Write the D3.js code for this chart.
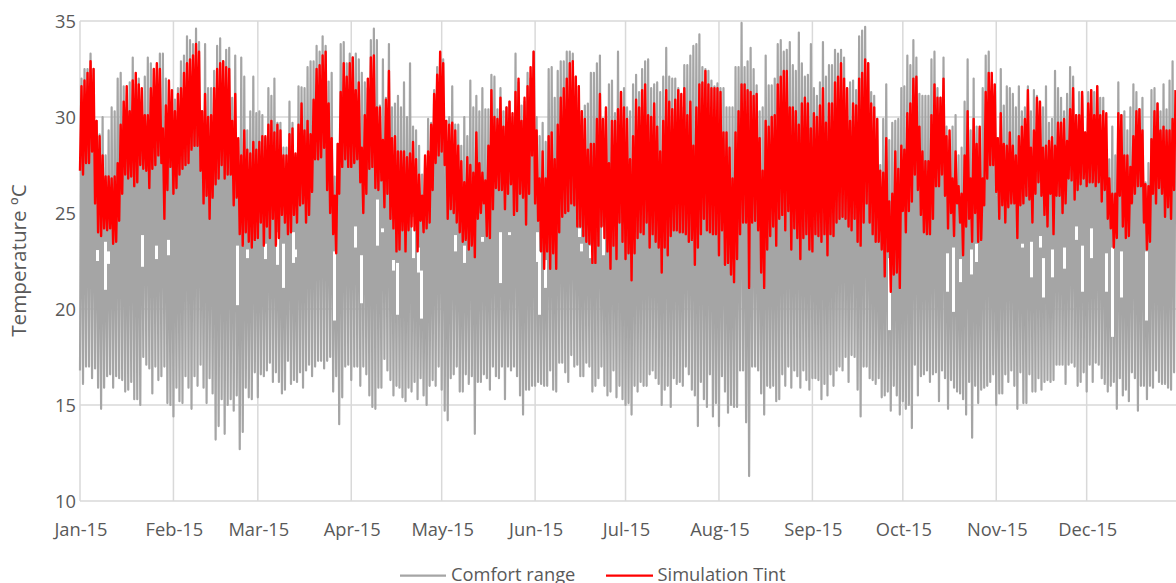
<!DOCTYPE html>
<html><head><meta charset="utf-8">
<script src="https://cdn.jsdelivr.net/npm/d3@7"></script>
<style>html,body{margin:0;padding:0;background:#fff;overflow:hidden}svg{display:block}text{font-family:"Open Sans",sans-serif}</style>
</head><body><svg id="c" width="1176" height="583"></svg>
<script>
const yTicks=[10,15,20,25,30,35];
const seriesNames=["Comfort range","Simulation Tint"];
const yTitle="Temperature ºC";
const comfortHigh=[
32,32.5,32.5,33.3,32.5,29.8,29.1,30,28,29.3,30.5,30.3,32,32.3,31.6,30.5,31.8,33.1,31.7,32,30.9,32.1,33.1,32.8,32.5,31.7,33.3,33.3,32,29.7,30.7,
30.9,31.5,32.9,33.2,34.2,34,33.8,34.6,33.9,30.3,33.8,31.5,31.5,32.4,33.7,34.1,32.9,33.5,33.6,31,33.2,28.8,33.1,32.1,29.3,30.3,32.1,30.2,
30.3,30.1,28.9,31.5,31.1,32,29.7,29.7,28.4,28.4,30.8,29.7,28,31.6,31.55,31.5,32.6,32.9,32.9,33.7,33.4,34.2,33.7,31.85,32.3,26.9,28.6,33.8,33.9,32.8,33.3,
33.1,33.3,33,32.3,31.8,31.5,34,34.6,34,30.6,33,31,33.8,30.5,30.7,31.1,30.5,31.8,30,32.8,29.5,29.3,28.5,27,27.5,29.9,29.7,31.4,32.6,
33,33,29.8,30,31.6,29.6,29.6,28.5,30,29,31.9,30.5,31.1,30.3,31.5,30.4,30.4,32.2,32.1,30.4,31.5,30.3,30.5,30.8,30,33.3,31.8,30.6,30.8,32.3,32,33.4,
30,29,29.7,28.7,32.5,32.6,31,32.4,32.9,32.9,33.4,33.4,33.3,32.1,31.6,30.3,30.6,30.7,32.3,32.3,32.8,33.2,29.9,30.3,31.7,31.9,30.2,33.4,31.3,
31.5,30.5,30.3,31.7,32.2,31.3,32.5,32.9,33,31.5,31.7,31.8,31.3,32.1,33.6,32.1,32,32,31.5,30.5,32.7,32.7,33.2,33.7,33.8,34.3,32.6,32.5,32.4,31.9,31.6,
31.75,31.5,31.5,30.5,30.5,30.5,32.6,32.6,34.9,32.6,32.9,33.6,32.5,31.65,30.3,30.5,33.2,31.65,31.65,32,
33.8,34,33.4,33.5,33.9,32.7,32.4,34.4,32.8,32.1,32.2,33.8,31.5,31.1,31.8,33.9,32.1,32.7,32.7,33.5,
33.3,33.5,33.1,31.5,31.8,31.9,31.4,34.2,34.5,34.7,32.8,31.3,31.1,29.9,27.5,29.9,31.7,28.8,29.7,29.8,
29.9,31.5,31.6,33.2,32.7,34,33.1,31.2,31.1,31.1,31.1,33,33.4,31.5,31,33.1,29.5,28.8,29.5,30.1,
28,28.4,30.8,33,29.3,32,29.5,29.4,31.5,33.2,33.4,30.3,31.2,28.9,32.5,30.6,31.6,31.5,31.2,30.5,
31.6,30.3,30.5,31.6,30.3,31.4,31.1,30.8,30.5,31.6,29.7,29.9,32.4,31.5,31,30.3,31.2,32.6,32.1,30.1,
31.3,31.1,29.2,31.3,31.4,31.3,31.6,31,31,28,27.8,29.5,28,31.8,30.1,30.3,29.3,30.5,31.7,31.3,
30.4,31,26.6,27.6,31.4,31.5,30.7,30.3,31.7,30.4,31.9,32.9,31.4];
const comfortLow=[
16.8,16.1,17,17,16.4,16.9,15.9,14.8,15.9,16.5,16.6,15.9,16.5,16.4,16.3,15.7,15.8,16.2,15.3,15.3,15,17.5,17.1,16.9,15.6,17,16.3,16.5,17,15.1,15,
14.4,15.9,15.2,15.1,16.5,15.9,14.8,16.5,16,17.1,15.9,15.1,16.4,15.6,13.2,13.9,15.3,13.5,15,15.3,14.7,15.5,12.7,13.6,15.9,15.4,15.3,16.7,
15.4,16.6,16.5,16.8,17.2,16.2,16.7,16.2,15.6,15.8,17.3,16.1,16.3,16.2,16.7,15.9,16.8,17.1,16.5,17,17.3,17.3,16.9,17.3,17.5,15.7,16.5,14,15.4,17,17.1,
16.3,17,17,16,17,16.6,15.5,14.9,14.8,15.9,15.9,17.4,16.8,16.3,15.5,16,15.9,15.4,15.2,15.9,15.7,16.2,15.3,16.4,15.5,15,16,16.3,16,
17,15.8,14.7,14.2,16.4,16.6,17,15.7,15.7,16.6,16.1,16.5,13.5,16.2,16.2,16.6,16.4,15.8,17,16.5,16.4,17,15.3,17,16.8,17,16.5,15.5,14.5,15.8,15.8,16,
16,16.2,16.1,16,16,16.8,15.8,15.7,17.2,17.2,16.7,16.2,17.6,17,17.1,16.5,16.5,17.2,17,15.7,16,16.4,17,16,15.5,15.7,16.8,15.4,16,
15.3,15,15.1,14.5,16,15.7,16.2,16,16,16.6,16.8,16.4,16.1,15,15.8,16,14.9,16.4,16.1,16.2,16,17,16.6,15.8,15.5,13.9,16.2,15.3,14.9,16.6,14.4,
15.1,13.9,16.5,15.7,14.6,15,14.9,14.9,16.8,16.8,14.1,11.3,17,17,16.8,15.6,14.5,16,15.9,16,
15.2,15.3,16.6,16,17,15.9,16.8,16.5,15.9,16.8,16.3,15.8,16.4,16.4,16.3,15.3,16.1,15.5,16.6,16,
16.8,17,16.8,17.5,16.2,17.6,17.5,15.8,14.4,17,17,16.4,16.3,16.1,16.4,15.4,15.5,15.7,14.7,16,
15.5,14.5,15.2,14.8,15,13.8,17.1,15.5,16.5,16.6,16.8,16.2,16.6,16.7,15.2,16.8,16.4,14.8,16.3,15.9,
15.7,15.6,15.3,14.5,16.2,13.3,16,15.1,15.8,15.9,16,16.2,16.6,15,15.6,15.6,16.6,16.2,16.8,16,
14.8,16.7,15.1,15.1,16.6,15.7,15.7,16.4,15.8,16.2,16.3,16.2,16.3,17.1,17.1,17.1,16.1,17.1,17.2,17,
16,16.2,16.7,15.7,17.1,16.2,17.2,17.1,16.4,16.1,15.7,16,16.2,14.8,16.4,15.5,15.8,15.2,16.7,16.4,
14.7,16,16,15.3,16,15.9,16.8,16.2,16.1,16.1,15.9,15.8,16.7];
const tintHigh=[
31.6,31.9,32.3,32.9,32.5,29.8,29,28,26.9,26.9,26.8,26.9,27.6,29.6,30.8,31.6,30.3,31.9,32.3,31.7,31.5,30.1,30.1,31.5,32.5,32.8,32.5,29.4,30.6,31.9,31.4,
30.3,31.2,31.5,32.3,32.8,33,33.2,33.8,33.4,30.3,31.2,30,30.1,31.5,32.5,32.8,32.9,32.6,32.5,29.8,31.2,28.9,28,29.3,28.3,28.1,28.7,28.3,
28.7,29,29,29.6,29.8,29.2,29.6,29.3,28,28,29.1,29.4,28.1,29.6,30.7,29.3,29.8,29.1,30.9,32.5,32.7,33.2,33.4,30.7,28.9,25.9,28.6,31.3,32.8,32.1,32.8,
33.1,31.4,31.8,28.4,30.1,32,33.1,33.2,30.5,30.5,28.8,30.9,32.4,28.9,29,28.2,28.2,28.2,27.9,28.1,28.7,27.8,27,25.9,28,28.2,29.6,31.2,32.2,
33.4,32.8,29.8,29.6,29.7,29.3,28.5,27.7,26.6,27.9,27.5,27.1,29.2,27.6,27.1,26.7,28.5,31.4,30,29.9,31,29.5,30.5,30.8,30.2,31.3,32,29.8,31,31.6,32.6,33.4,
29.3,26.8,28.2,26.8,29,29.2,27.8,29.6,31,31.5,32,32.8,32.9,32.1,31.6,30.3,29.9,28.3,28.6,28.6,29.9,31.2,29.9,30.5,27.6,29.8,29.8,30.4,31.3,
30.5,29.9,27.8,29,30.9,30.5,31.4,31.7,30.1,30,30.7,29.5,28.2,29.8,31.4,30.8,30.4,30.9,31.4,31.2,31.5,30.1,30.8,28.5,30.5,31.7,31.8,32.4,31.7,31.5,31.5,
31.5,31.3,29.2,29.2,28.4,26.8,29.2,30.3,31.7,31.7,31.4,31.3,31.1,31.2,28.9,27.2,29.8,29.5,30,30.1,
31.7,32.1,32.4,32.4,30.5,30.5,30.3,29.6,30.7,31,30.7,29.4,30.2,30,30.6,31.5,29.7,30.7,30.7,31.8,
32.1,32.8,32,31.5,29.8,30.7,30.6,32,32.3,33,32.8,30.7,30.5,29.9,27.2,27.1,28.9,25.6,26,28.2,
27.3,28.5,28.3,30.2,30.7,32,32.1,29.5,28.2,27.7,27.7,30.1,31.7,31,31,32,29,29.3,26.8,28.2,
26.4,26,28,30.3,26.8,29.9,28.6,29.5,26.8,31.3,32.3,32.3,31.7,28.9,30.2,28.6,28.5,29.2,28.5,28,
29,29.5,29.9,31.4,28.4,29.3,31,30.8,28.4,28.5,28.75,28.95,28.5,29.7,29.7,29.9,28.75,30.4,31.5,30.1,
30.1,31.3,29.2,30.7,31.4,30.1,31.6,30.1,30.3,30.2,26.8,26,26,30.2,30.1,28,28,27.4,29,30.3,
30.4,29.3,26.5,26.4,28.85,30.3,30.7,29.3,29.5,29.3,29.3,29.9,31.4];
const tintLow=[
27.2,27,27.6,27.6,28.2,25.5,24,23.8,24.2,24.1,24.2,23.4,23.5,24.6,26,27,26.8,26.9,26.4,26.6,27.5,27.3,27.2,26.3,27.3,27.5,28,27.6,24.7,26.2,27.4,
26,26.3,27,27.3,27.5,27.6,28.3,28.5,28.5,27.2,25.5,25.9,24.7,25.8,26.5,26.8,27.5,26.8,27,27,25.4,25.8,23.9,23.3,24,23.5,23.2,23.6,
23.7,24.5,23.3,24.3,23.7,24.7,23.3,23.7,24.9,24.5,23.9,24,24.9,24.5,25.4,25.5,24.5,24.9,26.1,27.8,27.8,27.9,28.4,26.2,25,23.9,22.9,26,27.4,27.8,27.4,
27.4,27.6,27.8,26.6,25,26,27.3,27.4,26.3,26.2,26.7,25.3,26,24.7,24.2,23,23.1,24.1,23,24.1,24.3,24.1,23,24.6,24,24.2,24.5,26.2,27.6,
28,28.2,27.5,24.7,25.2,25,24.5,24,23.5,23.6,23.1,23.3,22.7,24.7,25,25.5,23.8,23.7,25.2,26.3,26.2,26.2,25.2,26,26.5,24.9,25.1,26,25.8,24.4,26,28,
25.5,24.6,23,22.1,23,22.1,22.9,22.1,24,24.8,25,25.1,25.5,25.4,24.3,24.3,23.8,23.5,23.4,22.4,22.4,23.3,24.3,23.7,23,22.1,23.3,22.6,24.5,
23.5,22.6,22.9,21.5,22.9,23.7,24,23.9,24.5,23.2,23.9,23.5,23.2,21.9,23.2,22.8,23.8,24.1,24.1,24,24,23.9,23.5,23.6,22.3,23.2,23.9,24.7,24.1,24,23.9,
23.9,22.8,24.1,22.3,22.4,21.8,21.4,22.6,23.9,24.5,24.5,21.1,24.5,24.6,24.1,21.9,21.1,23.1,23.8,24.3,
23.3,24.7,24.9,24.1,25.1,23.1,24.2,23.7,22.6,23.7,23.9,23.1,23,23.9,23.8,23.5,23.9,22.8,23.9,23.8,
24.5,24.7,24.8,24.7,24.3,24.1,24.7,23.5,23.3,24.5,25.5,24.5,23.9,23.5,23.5,23.1,21.7,23,20.9,21.8,
21.9,21.1,25.1,24,25.1,25.6,27,26.2,24.9,24,23.9,23.9,24.7,26.4,26.4,27,25.9,24.2,25,23.8,
25.5,24.5,22.8,24.3,24.7,23.5,25,23.5,23.6,25.4,26.8,27.5,27.5,26.1,24.7,25.4,24.5,25.3,25.5,25.5,
23.7,25.4,25.5,25.9,25.7,24.5,26,26.6,25.9,24.9,24.3,26,23.9,25.9,25.9,25,25.5,26.8,26.7,25.7,
26.2,26.5,26.8,26.4,26.6,26.6,26.4,26.6,25.6,26.2,24.7,24.2,23.2,23.7,25.9,24.3,23.7,23.8,25.5,26,
26.4,26.4,24.5,23.1,23.5,26,25.5,26.3,26,24.8,25.3,24.7,26.2];
// days where the comfort trace leaves a visible white slot: day, top, bottom
const gapDay=[5.6,8.3,9.3,20.5,25.2,29.2,52.1,55.4,61.4,65.4,67.4,70.7,71.3,84.3,91.2,93.2,98.5,100.2,103.8,105.2,110.5,112.1,113.1,124.4,127.4,133.4,139.3,142.3,151.6,152.3,154.3,165.6,166.2,169.2,173.5,226.3,268.4,287.7,289.6,292,295.6,297.3,312.5,315.5,318.5,319.5,322.5,326.5,330.5,332.4,335.4,340.4,342.4,345.4,353.7];
const gapTop=[23.07,23.5,23,23.85,23.3,23.6,23.3,23.1,23.4,24,23.4,24,23.1,23,24.3,22.8,25.7,24.2,22.55,22.4,24.8,23.2,22,23.85,23.3,23.75,24,24,24,23,22.55,24.2,23.4,23.3,24.3,24,22.65,22.9,23.2,22.6,23.1,23.4,23.4,23.5,23.8,22.65,23.1,23.2,24.3,23.3,24.2,22.9,23.2,23,23];
const gapBot=[22.5,21,22.35,22.2,22.6,22.8,20.2,22.65,22.6,22.3,21.1,22.4,22.7,19.4,23.2,20.3,23.3,24,22,19.7,22.65,21.9,19.5,23,22.4,23.5,21.35,23.85,22.45,19.7,21.1,23.75,23,22.65,22.8,23,18.9,20.9,19.85,21.4,21.8,22.45,23.2,21.65,23.2,20.6,21.65,22.1,23.6,20.9,22.65,20.9,18.55,20.6,19.4];

const W=1176,H=583,L=80,T=21,B=501;
const svg=d3.select("#c");
const start=new Date(Date.UTC(2015,0,1)),end=new Date(Date.UTC(2016,0,1));
const x=d3.scaleUtc().domain([start,end]).range([L,L+3.014*365]);
const y=d3.scaleLinear().domain([10,35]).range([B,T]);
const at=d=>new Date(start.getTime()+d*864e5);
const months=d3.utcMonth.range(start,end);
const gridC="#D9D9D9",txtC="#595959";

const g=svg.append("g");
g.selectAll("line.h").data(yTicks).join("line").attr("class","h")
 .attr("x1",L).attr("x2",W).attr("y1",d=>y(d)).attr("y2",d=>y(d)).attr("stroke",gridC).attr("stroke-width",1.5);
g.selectAll("line.v").data(months).join("line").attr("class","v")
 .attr("x1",d=>x(d)).attr("x2",d=>x(d)).attr("y1",T).attr("y2",B).attr("stroke",gridC).attr("stroke-width",1.5);

const zig=(lo,hi)=>lo.flatMap((v,i)=>[[i,v],[i+0.5,hi[i]]]);
const line=d3.line().x(d=>x(at(d[0]))).y(d=>y(d[1]));
svg.append("path").attr("d",line(zig(comfortLow,comfortHigh))).attr("fill","none").attr("stroke","#A5A5A5").attr("stroke-width",2.2).attr("stroke-linejoin","round");
svg.selectAll("rect.gap").data(gapDay).join("rect").attr("class","gap")
 .attr("x",d=>Math.round(x(at(d)))-1).attr("width",3)
 .attr("y",(d,i)=>y(gapTop[i])).attr("height",(d,i)=>y(gapBot[i])-y(gapTop[i])).attr("fill","#fff");
svg.append("path").attr("d",line(zig(tintLow,tintHigh))).attr("fill","none").attr("stroke","#FF0000").attr("stroke-width",2.4).attr("stroke-linejoin","round");

svg.selectAll("text.yt").data(yTicks).join("text").attr("class","yt")
 .attr("x",76).attr("y",d=>y(d)+6.5).attr("text-anchor","end").attr("font-size",18.3).attr("fill",txtC).text(d=>d);
const fmt=d3.utcFormat("%b-%y");
svg.selectAll("text.xt").data(months).join("text").attr("class","xt")
 .attr("x",d=>x(d)+1).attr("y",535.5).attr("text-anchor","middle").attr("font-size",18.3).attr("fill",txtC).text(d=>fmt(d));
svg.append("text").attr("transform","translate(25.5,260.5) rotate(-90)").attr("text-anchor","middle").attr("font-size",20.7).attr("fill",txtC).text(yTitle);

const lx=[400,606],lw=[46,47],tx=[451,657.5],lc=["#A5A5A5","#FF0000"];
seriesNames.forEach((n,i)=>{
 svg.append("line").attr("x1",lx[i]).attr("x2",lx[i]+lw[i]).attr("y1",575.7).attr("y2",575.7).attr("stroke",lc[i]).attr("stroke-width",2.2);
 svg.append("text").attr("x",tx[i]).attr("y",581).attr("font-size",18.3).attr("fill",txtC).text(n);
});
</script></body></html>
